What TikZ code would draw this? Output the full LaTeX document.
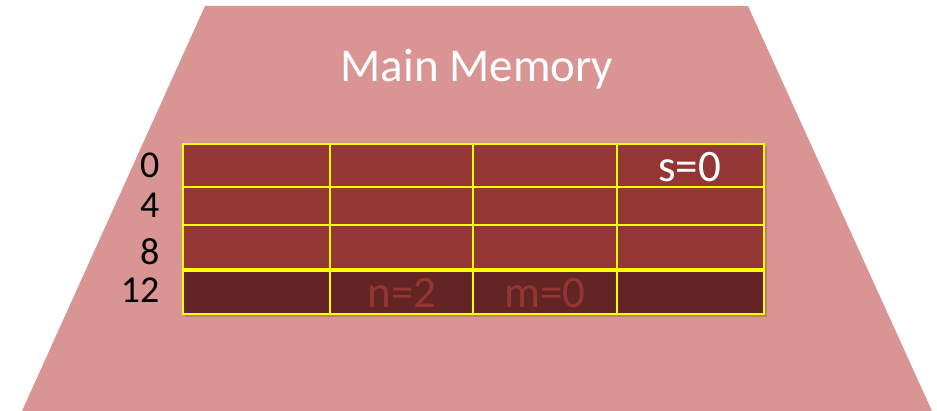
\documentclass[tikz,border=0pt]{standalone}
\usepackage{fontspec}
\setmainfont{Carlito}
\usepackage{xcolor}
\usetikzlibrary{positioning}
\definecolor{MemPink}{HTML}{D99594}
\definecolor{CellRed}{HTML}{943634}
\definecolor{CellDark}{HTML}{632523}
\definecolor{GridYellow}{HTML}{FFFF00}
\tikzset{
  memcell/.style={
    draw=GridYellow,
    line width=2pt,
    fill=CellRed,
    inner sep=0pt,
    anchor=north west
  },
  lastcell/.style={memcell, fill=CellDark},
  celltext/.style={font=\fontsize{45}{45}\selectfont, inner sep=0pt},
  addrlabel/.style={anchor=east, font=\fontsize{38}{38}\selectfont, inner sep=0pt}
}

\begin{document}
\begin{tikzpicture}[x=1pt,y=-1pt]
  \useasboundingbox (0,0) rectangle (937,411);
  \fill[MemPink] (205,6) -- (748,6) -- (932,411) -- (22,411) -- cycle;
  \node[font=\fontsize{47}{47}\selectfont, text=white, anchor=base, inner sep=0pt] (title) at (477,81.7) {Main Memory};

  % soft shadow under the table
  \fill[black, opacity=0.15] (185,147) rectangle (767,317);

  \foreach \r/\top/\bot in {0/143/186, 1/186/224, 2/224/268} {
    \foreach \c/\lft/\rgt in {0/182/329, 1/329/472, 2/472/616, 3/616/763} {
      \pgfmathsetmacro{\w}{\rgt-\lft}
      \pgfmathsetmacro{\h}{\bot-\top}
      \node[memcell, minimum width=\w pt, minimum height=\h pt] (c\r\c) at (\lft,\top) {};
    }
  }
  \foreach \c/\lft/\rgt in {0/182/329, 1/329/472, 2/472/616, 3/616/763} {
    \pgfmathsetmacro{\w}{\rgt-\lft}
    \node[lastcell, minimum width=\w pt, minimum height=42.5pt] (c3\c) at (\lft,270.5) {};
  }

  \node[celltext, text=white] (sval) at (689.5,167) {s=0};
  \node[celltext, text=CellRed] (nval) at (402,293) {n=2};
  \node[celltext, text=CellRed] (mval) at (545,293) {m=0};

  \node[addrlabel] (a0) at (159.5,165) {0};
  \node[addrlabel] (a4) at (159.5,205.5) {4};
  \node[addrlabel] (a8) at (159.5,251.5) {8};
  \node[addrlabel] (a12) at (159.5,290.5) {12};
\end{tikzpicture}
\end{document}
